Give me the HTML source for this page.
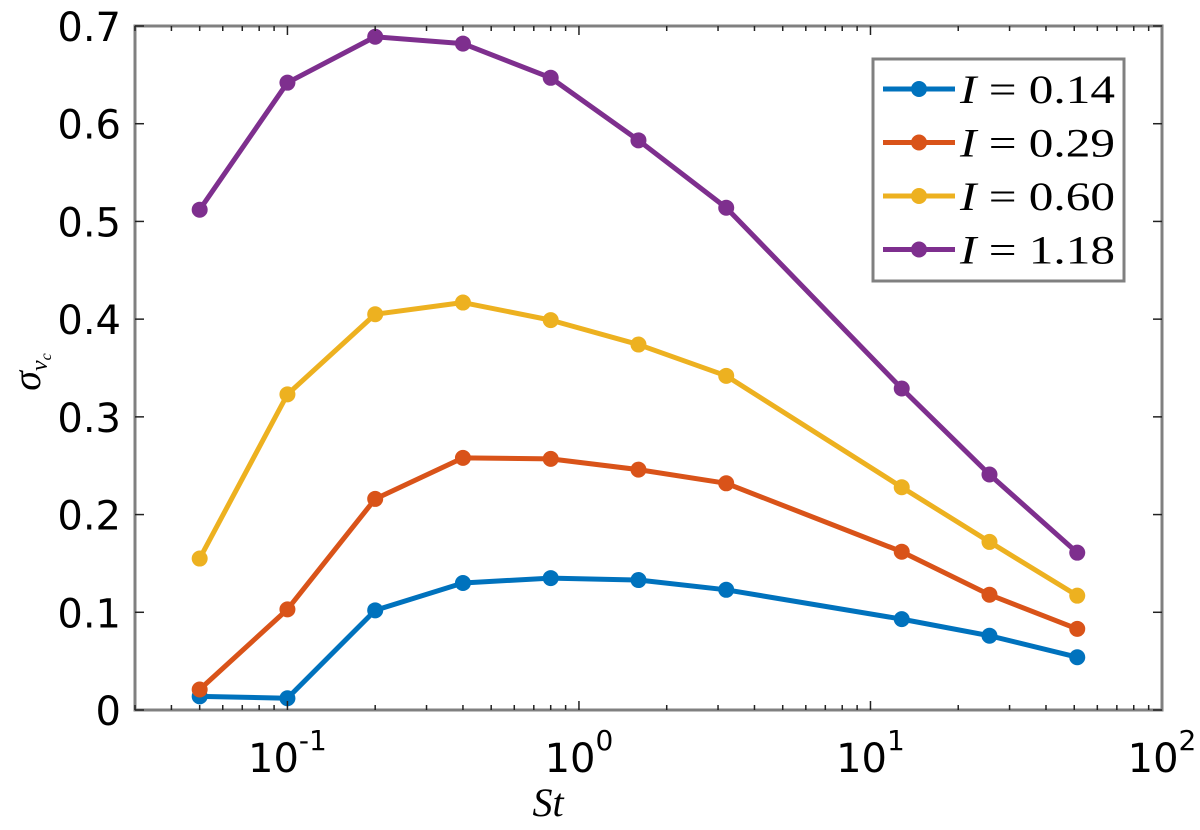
<!DOCTYPE html>
<html><head><meta charset="utf-8"><style>
body{margin:0;background:#fff;}
svg{display:block;}
.tk{font-family:"DejaVu Sans","Liberation Sans",sans-serif;font-size:40px;fill:#000;}
.lt{font-family:"Liberation Serif",serif;font-size:40px;fill:#000;}
</style></head><body>
<svg id="chart" width="1200" height="830">
<g id="marks"></g>
</svg>
<script>
const stValues=[0.05,0.1,0.2,0.4,0.8,1.6,3.2,12.8,25.6,51.2];
const series014=[0.014,0.012,0.102,0.130,0.135,0.133,0.123,0.093,0.076,0.054];
const series029=[0.021,0.103,0.216,0.258,0.257,0.246,0.232,0.162,0.118,0.083];
const series060=[0.155,0.323,0.405,0.417,0.399,0.374,0.342,0.228,0.172,0.117];
const series118=[0.512,0.642,0.689,0.682,0.647,0.583,0.514,0.329,0.241,0.161];
const seriesValues=["0.14","0.29","0.60","1.18"];
const yTicks=[0,0.1,0.2,0.3,0.4,0.5,0.6,0.7];
const yTickLabels=["0","0.1","0.2","0.3","0.4","0.5","0.6","0.7"];
const xDecades=[-1,0,1,2];

const NS="http://www.w3.org/2000/svg";
const L=135,R=1162,T=26,B=710;
const xmin=Math.log10(0.03),xmax=2;
function X(v){return L+(Math.log10(v)-xmin)/(xmax-xmin)*(R-L);}
function Y(v){return B-v/0.7*(B-T);}
const svg=document.getElementById('chart');
const g=document.getElementById('marks');
function mk(tag,attrs,parent){const e=document.createElementNS(NS,tag);for(const k in attrs)e.setAttribute(k,attrs[k]);(parent||svg).appendChild(e);return e;}

const box=mk('rect',{x:L,y:T,width:R-L,height:B-T,fill:'none',stroke:'#808080','stroke-width':3});


yTicks.forEach((v,i)=>{
  const y=Y(v);
  const t1=mk('line',{x1:L,x2:L+9,y1:y,y2:y,stroke:'#222','stroke-width':1.5});
  
  
  const t2=mk('line',{x1:R-9,x2:R,y1:y,y2:y,stroke:'#222','stroke-width':1.5});
  
  
  const lb=mk('text',{x:121,y:y+15,'text-anchor':'end',class:'tk'});
  lb.textContent=yTickLabels[i];
  
  
});
for(let d=-2;d<=1;d++){for(let m=1;m<=9;m++){
  const v=m*Math.pow(10,d); if(v<0.03||v>100)continue;
  const x=X(v); const len=m===1?9:5;
  const a=mk('line',{x1:x,x2:x,y1:B,y2:B-len,stroke:'#222','stroke-width':1.5});
  
  
  const b=mk('line',{x1:x,x2:x,y1:T,y2:T+len,stroke:'#222','stroke-width':1.5});
  
  
}}
xDecades.forEach(d=>{
  const x=X(Math.pow(10,d));
  const lb=mk('text',{x:x,y:772,'text-anchor':'middle',class:'tk'});
  lb.innerHTML='10<tspan font-size="28" dy="-22">'+String(d)+'</tspan>';
  
  
});
const xt=mk('text',{x:548,y:816,'text-anchor':'middle',class:'lt','font-style':'italic'});
xt.textContent='St';


const yt=mk('text',{transform:'translate(40,372) rotate(-90)','text-anchor':'middle',class:'lt','font-style':'italic'});
yt.innerHTML='σ<tspan font-size="24" dy="7">v</tspan><tspan font-size="16" dy="4">c</tspan>';



const colors=['#0072BD','#D95319','#EDB120','#7E2F8E'];
const data=[series014,series029,series060,series118];
data.forEach((s,k)=>{
  const pts=s.map((v,i)=>X(stValues[i])+','+Y(v)).join(' ');
  const pl=mk('polyline',{points:pts,fill:'none',stroke:colors[k],'stroke-width':5,'stroke-linejoin':'round'},g);
  
  
  s.forEach((v,i)=>{
    const c=mk('circle',{cx:X(stValues[i]),cy:Y(v),r:8,fill:colors[k]},g);
    
    
  });
});
const lg=mk('g',{});


mk('rect',{x:873,y:59,width:251,height:222,fill:'#fff',stroke:'#808080','stroke-width':3},lg);
seriesValues.forEach((v,k)=>{
  const y=89+k*53.5;
  const e=mk('g',{},lg);
  
  
  mk('line',{x1:883,x2:955,y1:y,y2:y,stroke:colors[k],'stroke-width':5},e);
  mk('circle',{cx:919,cy:y,r:8,fill:colors[k]},e);
  const t=mk('text',{x:960,y:y+14,class:'lt','textLength':155,'lengthAdjust':'spacingAndGlyphs'},e);
  t.innerHTML='<tspan font-style="italic">I</tspan> = '+v;
});
</script>
</body></html>
